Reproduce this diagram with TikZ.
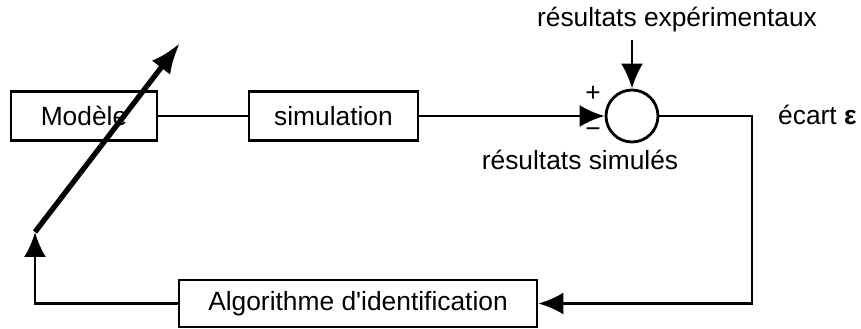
\documentclass[tikz,border=0pt]{standalone}
\usepackage{fontspec}
\setmainfont{Liberation Sans}
\usepackage{tikz}
\usetikzlibrary{arrows.meta,positioning}

\begin{document}
\begin{tikzpicture}[
			x = 0.02cm, y = 0.02cm,
			every node/.style = {font=\fontsize{15}{18}\selectfont},
			bloc/.style = {draw, line width=1.6pt, minimum height=0.98cm, inner sep=0pt},
			lien/.style = {line width=1.6pt},
			fleche/.style = {lien, -{Latex[length=0.5cm,width=0.44cm]}},
			reglage/.style = {line width=3pt, -{Latex[length=0.62cm,width=0.46cm]}}
			]
			\useasboundingbox (0,0) rectangle (861,328);

			\node[bloc, minimum width=2.92cm] (modele) at (84,212) {Modèle};
			\node[bloc, minimum width=3.38cm] (simul) at (333.5,212) {simulation};
			\node[draw, circle, line width=1.6pt, minimum size=1.04cm, inner sep=0pt] (somme) at (632,212) {};
			\node[bloc, minimum width=7.16cm, minimum height=0.94cm] (algo) at (358,24.5) {Algorithme d\textquotesingle identification};

			\node (exper) at (677,308) {résultats expérimentaux};
			\node (simres) at (580,168) {résultats simulés};
			\node (plus) at (593,234) {+};
			\node (moins) at (593,195) {−};
			\node[anchor=west] (ecart) at (772,213) {écart \textbf{ε}};

			\coordinate (entree) at (632,288);
			\coordinate (coin) at (752,212);
			\coordinate (retour) at (35,24.5);
			\coordinate (pied) at (35,96);
			\coordinate (bout) at (180,285);

			\draw[reglage] (pied) -- (bout);
			\draw[lien] (modele) -- (simul);
			\draw[fleche] (simul) -- (somme);
			\draw[fleche] (entree) -- (somme);
			\draw[fleche] (somme) -- (coin) |- (algo);
			\draw[fleche] (algo) -| (pied);

		\end{tikzpicture}
\end{document}
